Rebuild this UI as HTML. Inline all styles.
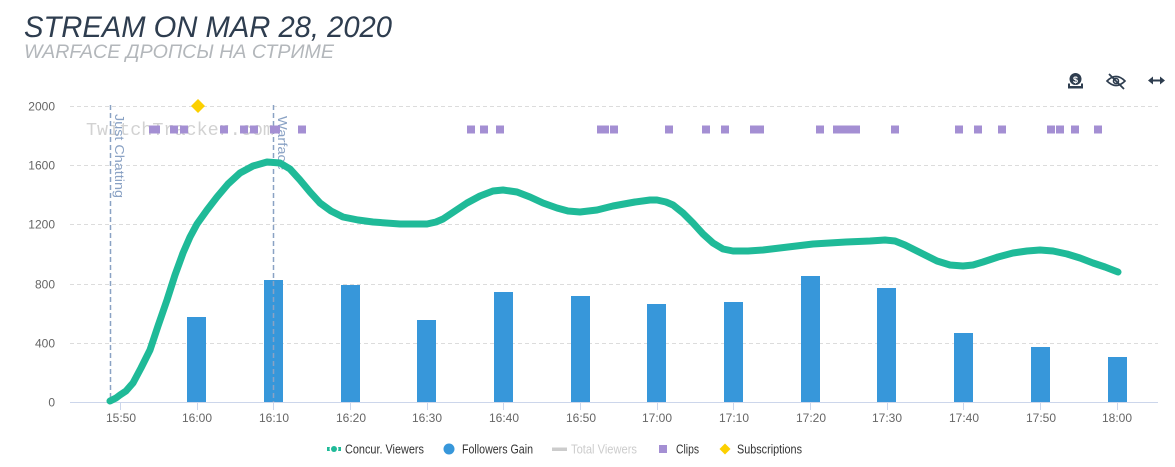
<!DOCTYPE html>
<html><head><meta charset="utf-8"><style>
html,body{margin:0;padding:0;background:#fff;}
svg{display:block;}
text{font-family:"Liberation Sans","DejaVu Sans",sans-serif;}
</style></head><body>
<svg width="1175" height="467" viewBox="0 0 1175 467" xmlns="http://www.w3.org/2000/svg">
<rect width="1175" height="467" fill="#fff"/>
<!-- Title -->
<text x="24" y="37" font-size="30" font-style="italic" fill="#2e3d4f" textLength="368" lengthAdjust="spacingAndGlyphs">STREAM ON MAR 28, 2020</text>
<text x="24" y="58" font-size="19" font-style="italic" fill="#b3b7bb" textLength="310" lengthAdjust="spacingAndGlyphs" style="font-family:'Liberation Sans','DejaVu Sans',sans-serif">WARFACE ДРОПСЫ НА СТРИМЕ</text>

<!-- top-right icons -->
<g fill="#2e3d4f">
  <circle cx="1075.5" cy="79" r="6"/>
  <text x="1075.5" y="83" font-size="9" font-weight="bold" fill="#fff" text-anchor="middle">$</text>
  <rect x="1068" y="86" width="15" height="2.5"/>
  <rect x="1068" y="83.5" width="2" height="4"/>
  <rect x="1081" y="83.5" width="2" height="4"/>
</g>
<g fill="none" stroke="#2e3d4f" stroke-width="1.6">
  <path d="M1107 81 Q1116 72 1125 81 Q1116 90 1107 81 Z"/>
  <circle cx="1116" cy="81" r="2.5"/>
  <line x1="1109" y1="74" x2="1124" y2="89" stroke-width="1.8"/>
</g>
<g fill="#2e3d4f">
  <rect x="1151" y="79.5" width="11" height="2"/>
  <path d="M1148 80.5 L1153 76.5 L1153 84.5 Z"/>
  <path d="M1165 80.5 L1160 76.5 L1160 84.5 Z"/>
</g>

<!-- gridlines -->
<g stroke="#dcdcdc" stroke-width="1" stroke-dasharray="4,3">
  <line x1="70" y1="106.5" x2="1158" y2="106.5"/>
  <line x1="70" y1="165.5" x2="1158" y2="165.5"/>
  <line x1="70" y1="224.5" x2="1158" y2="224.5"/>
  <line x1="70" y1="284.5" x2="1158" y2="284.5"/>
  <line x1="70" y1="343.5" x2="1158" y2="343.5"/>
</g>
<!-- y labels -->
<g font-size="12" fill="#666" text-anchor="end">
  <text x="55" y="110.5">2000</text>
  <text x="55" y="169.5">1600</text>
  <text x="55" y="228.5">1200</text>
  <text x="55" y="288.5">800</text>
  <text x="55" y="347.5">400</text>
  <text x="55" y="406.5">0</text>
</g>

<!-- watermark -->
<text x="86" y="135" font-size="18" fill="#d2d2d2" style="font-family:'Liberation Mono','DejaVu Sans Mono',monospace" textLength="188" lengthAdjust="spacingAndGlyphs">TwitchTracker.com</text>

<!-- bars -->
<g fill="#3797da">
  <rect x="187" y="317" width="19" height="85"/>
  <rect x="264" y="280" width="19" height="122"/>
  <rect x="341" y="285" width="19" height="117"/>
  <rect x="417" y="320" width="19" height="82"/>
  <rect x="494" y="292" width="19" height="110"/>
  <rect x="571" y="296" width="19" height="106"/>
  <rect x="647" y="304" width="19" height="98"/>
  <rect x="724" y="302" width="19" height="100"/>
  <rect x="801" y="276" width="19" height="126"/>
  <rect x="877" y="288" width="19" height="114"/>
  <rect x="954" y="333" width="19" height="69"/>
  <rect x="1031" y="347" width="19" height="55"/>
  <rect x="1108" y="357" width="19" height="45"/>
</g>

<!-- axis -->
<line x1="70" y1="402.5" x2="1158" y2="402.5" stroke="#ccd6eb" stroke-width="1"/>
<g stroke="#ccd6eb" stroke-width="1">
  <line x1="120.5" y1="402" x2="120.5" y2="410"/>
  <line x1="197.5" y1="402" x2="197.5" y2="410"/>
  <line x1="273.5" y1="402" x2="273.5" y2="410"/>
  <line x1="350.5" y1="402" x2="350.5" y2="410"/>
  <line x1="427.5" y1="402" x2="427.5" y2="410"/>
  <line x1="503.5" y1="402" x2="503.5" y2="410"/>
  <line x1="580.5" y1="402" x2="580.5" y2="410"/>
  <line x1="657.5" y1="402" x2="657.5" y2="410"/>
  <line x1="733.5" y1="402" x2="733.5" y2="410"/>
  <line x1="810.5" y1="402" x2="810.5" y2="410"/>
  <line x1="887.5" y1="402" x2="887.5" y2="410"/>
  <line x1="963.5" y1="402" x2="963.5" y2="410"/>
  <line x1="1040.5" y1="402" x2="1040.5" y2="410"/>
  <line x1="1117.5" y1="402" x2="1117.5" y2="410"/>
</g>
<g font-size="12" fill="#666" text-anchor="middle">
  <text x="121" y="422">15:50</text>
  <text x="197" y="422">16:00</text>
  <text x="274" y="422">16:10</text>
  <text x="351" y="422">16:20</text>
  <text x="427" y="422">16:30</text>
  <text x="504" y="422">16:40</text>
  <text x="581" y="422">16:50</text>
  <text x="657" y="422">17:00</text>
  <text x="734" y="422">17:10</text>
  <text x="811" y="422">17:20</text>
  <text x="887" y="422">17:30</text>
  <text x="964" y="422">17:40</text>
  <text x="1041" y="422">17:50</text>
  <text x="1117" y="422">18:00</text>
</g>

<!-- plot lines -->
<g stroke="#8aa2c4" stroke-width="1.5" stroke-dasharray="5,3">
  <line x1="110.5" y1="105" x2="110.5" y2="402"/>
  <line x1="273.5" y1="105" x2="273.5" y2="402"/>
</g>
<g font-size="13" fill="#8aa2c4">
  <text transform="translate(115,114) rotate(90)" textLength="84" lengthAdjust="spacingAndGlyphs">Just Chatting</text>
  <text transform="translate(278,116) rotate(90)" textLength="54" lengthAdjust="spacingAndGlyphs">Warface</text>
</g>

<!-- viewers line -->
<polyline fill="none" stroke="#1fba98" stroke-width="7" stroke-linejoin="round" stroke-linecap="round"
points="110,401 116,398 120,395 126,391 133,383 141,368 150,350 158,326 167,300 175,275 183,253 190,237 197,224 207,210 217,197 228,184 240,173 253,166 267,162 280,163 290,169 300,180 310,192 320,203 331,211 343,217 358,220 373,222 400,224 427,224 436,222 443,219 455,211 467,203 480,196 493,191 503,190 517,192 530,197 543,203 557,208 568,211 580,212 597,210 613,206 635,202 650,200 657,200 666,202 673,205 683,213 693,223 703,234 713,243 723,249 733,251 748,251 763,250 788,247 813,244 846,242 870,241 885,240 895,241 905,245 913,249 925,255 937,261 950,265 963,266 973,265 983,262 998,257 1013,253 1027,251 1040,250 1053,251 1067,254 1080,258 1093,263 1105,267 1118,272"/>

<!-- clips -->
<g fill="#a48fd3">
  <rect x="149" y="125.5" width="8" height="8"/>
  <rect x="152" y="125.5" width="8" height="8"/>
  <rect x="170" y="125.5" width="8" height="8"/>
  <rect x="180" y="125.5" width="8" height="8"/>
  <rect x="220" y="125.5" width="8" height="8"/>
  <rect x="240" y="125.5" width="8" height="8"/>
  <rect x="250" y="125.5" width="8" height="8"/>
  <rect x="270" y="125.5" width="8" height="8"/>
  <rect x="272" y="125.5" width="8" height="8"/>
  <rect x="298" y="125.5" width="8" height="8"/>
  <rect x="467" y="125.5" width="8" height="8"/>
  <rect x="480" y="125.5" width="8" height="8"/>
  <rect x="496" y="125.5" width="8" height="8"/>
  <rect x="597" y="125.5" width="8" height="8"/>
  <rect x="601" y="125.5" width="8" height="8"/>
  <rect x="610" y="125.5" width="8" height="8"/>
  <rect x="665" y="125.5" width="8" height="8"/>
  <rect x="702" y="125.5" width="8" height="8"/>
  <rect x="721" y="125.5" width="8" height="8"/>
  <rect x="750" y="125.5" width="8" height="8"/>
  <rect x="756" y="125.5" width="8" height="8"/>
  <rect x="816" y="125.5" width="8" height="8"/>
  <rect x="833" y="125.5" width="8" height="8"/>
  <rect x="841" y="125.5" width="8" height="8"/>
  <rect x="848" y="125.5" width="8" height="8"/>
  <rect x="852" y="125.5" width="8" height="8"/>
  <rect x="891" y="125.5" width="8" height="8"/>
  <rect x="955" y="125.5" width="8" height="8"/>
  <rect x="974" y="125.5" width="8" height="8"/>
  <rect x="998" y="125.5" width="8" height="8"/>
  <rect x="1047" y="125.5" width="8" height="8"/>
  <rect x="1056" y="125.5" width="8" height="8"/>
  <rect x="1071" y="125.5" width="8" height="8"/>
  <rect x="1094" y="125.5" width="8" height="8"/>
</g>

<!-- subscription -->
<path d="M198 99 L205 106 L198 113 L191 106 Z" fill="#fcd000"/>

<!-- legend -->
<g font-size="12.5" fill="#333">
  <line x1="327" y1="449" x2="341" y2="449" stroke="#1fba98" stroke-width="4"/>
  <circle cx="334" cy="449" r="4.5" fill="#fff"/>
  <circle cx="334" cy="449" r="3" fill="#1fba98"/>
  <text x="345" y="453.5" textLength="79" lengthAdjust="spacingAndGlyphs">Concur. Viewers</text>

  <circle cx="449" cy="449" r="5.5" fill="#3797da"/>
  <text x="462" y="453.5" textLength="71" lengthAdjust="spacingAndGlyphs">Followers Gain</text>

  <rect x="552" y="447.5" width="15" height="3.5" fill="#cccccc"/>
  <text x="571" y="453.5" fill="#cccccc" textLength="66" lengthAdjust="spacingAndGlyphs">Total Viewers</text>

  <rect x="659" y="445" width="8" height="8" fill="#a48fd3"/>
  <text x="676" y="453.5" textLength="23" lengthAdjust="spacingAndGlyphs">Clips</text>

  <path d="M725 443.5 L730.5 449 L725 454.5 L719.5 449 Z" fill="#fcd000"/>
  <text x="737" y="453.5" textLength="65" lengthAdjust="spacingAndGlyphs">Subscriptions</text>
</g>
</svg>
</body></html>
